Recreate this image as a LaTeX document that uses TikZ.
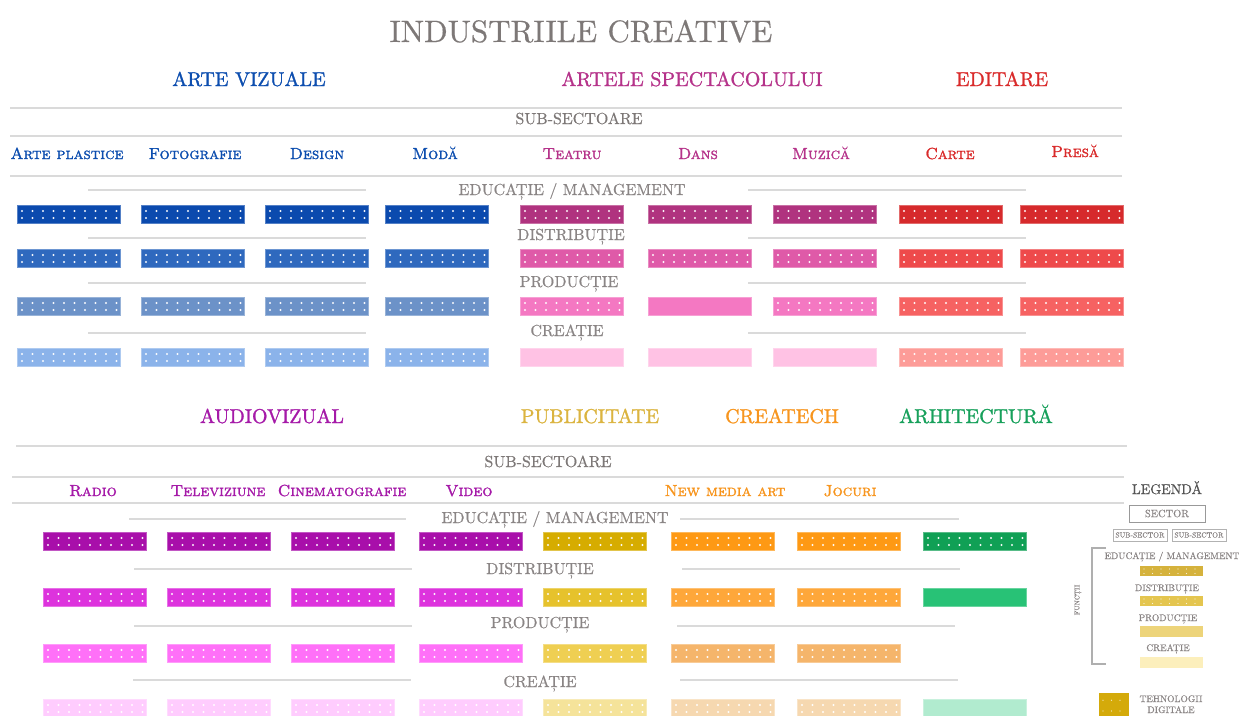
\documentclass[tikz,border=0pt]{standalone}
\usepackage{fontspec}
\setmainfont{lmroman10-regular.otf}[BoldFont=lmroman10-bold.otf, SmallCapsFont=lmromancaps10-regular.otf, SmallCapsFeatures={FakeBold=1.5}]
\definecolor{ttl}{HTML}{7D7877}
\definecolor{gr}{HTML}{8A8585}
\definecolor{ln}{HTML}{DADADA}
\definecolor{lgd}{HTML}{555555}
\definecolor{tav}{HTML}{0D4EAF}
\definecolor{tas}{HTML}{B5338A}
\definecolor{ted}{HTML}{D92B2B}
\definecolor{tau}{HTML}{A51AA8}
\definecolor{tpb}{HTML}{DBB440}
\definecolor{tct}{HTML}{F7951E}
\definecolor{tar}{HTML}{17A05B}
\definecolor{av1}{HTML}{0B4AAE}\definecolor{av2}{HTML}{2F69BE}\definecolor{av3}{HTML}{6C92C8}\definecolor{av4}{HTML}{8BB3EA}
\definecolor{as1}{HTML}{B0337F}\definecolor{as2}{HTML}{DF5AA8}\definecolor{as3}{HTML}{F478C2}\definecolor{as4}{HTML}{FFC2E4}
\definecolor{ed1}{HTML}{D62A2C}\definecolor{ed2}{HTML}{EE4A4B}\definecolor{ed3}{HTML}{F66262}\definecolor{ed4}{HTML}{FD9C98}
\definecolor{au1}{HTML}{A80FAA}\definecolor{au2}{HTML}{DD33DD}\definecolor{au3}{HTML}{FF70F8}\definecolor{au4}{HTML}{FFCCFE}
\definecolor{pb1}{HTML}{D6AC00}\definecolor{pb2}{HTML}{E6C22C}\definecolor{pb3}{HTML}{EFCF52}\definecolor{pb4}{HTML}{F5E39A}
\definecolor{ct1}{HTML}{FE9914}\definecolor{ct2}{HTML}{FEA73A}\definecolor{ct3}{HTML}{F5B56B}\definecolor{ct4}{HTML}{F6D8B0}
\definecolor{ar1}{HTML}{10A055}\definecolor{ar2}{HTML}{28C276}\definecolor{ar4}{HTML}{B1EBCF}
\definecolor{lg1}{HTML}{D5B23C}\definecolor{lg2}{HTML}{E4C54F}\definecolor{lg3}{HTML}{EDD47A}\definecolor{lg4}{HTML}{FCEFBC}
\definecolor{tech}{HTML}{D4AA0A}
\newcommand\cbar[4]{%
  \fill[#3] (#1,#2) rectangle ++(103,18);
  \draw[#3!70!white, line width=0.7pt] (#1,#2) rectangle ++(103,18);
  \ifnum#4=1
    \foreach \i in {0,...,9} {
      \fill[white, opacity=0.95] ({#1+5+\i*10.5},{#2+6}) circle (1.05pt);
      \fill[white, opacity=0.95] ({#1+5+\i*10.5},{#2+13}) circle (1.05pt);
    }
  \fi}
\newcommand\lbar[6]{% x y w h color dots
  \fill[#5] (#1,#2) rectangle ++(#3,#4);
  \ifnum#6=1
    \foreach \i in {0,...,20} {
      \pgfmathsetmacro\xx{#1+4+\i*8.5}
      \pgfmathparse{\xx<#1+#3-2?1:0}
      \ifnum\pgfmathresult=1
        \fill[white, opacity=0.8] (\xx,{#2+#4*0.3}) circle (0.6pt);
        \fill[white, opacity=0.8] (\xx,{#2+#4*0.75}) circle (0.6pt);
      \fi
    }
  \fi}
\newcommand\bolder[1]{\addfontfeature{FakeBold=#1}}
\tikzset{
  hline/.style={ln, line width=1.6pt},
  title/.style={font=\fontsize{31}{36}\selectfont\bolder{0.5}, text=ttl, anchor=base, inner sep=0pt},
  sector/.style={font=\fontsize{20}{24}\selectfont\bolder{1.2}, anchor=base, inner sep=0pt},
  subhead/.style={font=\fontsize{16}{20}\selectfont\bolder{0.6}, text=ttl, anchor=base, inner sep=0pt},
  sublbl/.style={font=\fontsize{16}{20}\selectfont\scshape, anchor=base, inner sep=0pt},
  func/.style={font=\fontsize{16}{20}\selectfont\bolder{0.6}, text=gr, anchor=base, inner sep=0pt},
  lgtxt/.style={font=\fontsize{9.5}{11}\selectfont\bolder{0.6}, text=gr, anchor=base, inner sep=0pt},
}
\begin{document}
\begin{tikzpicture}[x=1pt, y=-1pt]
\useasboundingbox (0,0) rectangle (1239,715);
% ---------- title
\node[title] (title) at (581,42) {INDUSTRIILE CREATIVE};
% ---------- top sectors
\node[sector, text=tav] (s1) at (249,86) {ARTE VIZUALE};
\node[sector, text=tas] (s2) at (692,86) {ARTELE SPECTACOLULUI};
\node[sector, text=ted] (s3) at (1002,86) {EDITARE};
\draw[hline] (10,108) -- (1122,108);
\node[subhead] (ss1) at (579,124) {SUB-SECTOARE};
\draw[hline] (10,136) -- (1122,136);
\node[sublbl, text=tav] (a1) at (67,159) {Arte plastice};
\node[sublbl, text=tav] (a2) at (195,159) {Fotografie};
\node[sublbl, text=tav] (a3) at (317,159) {Design};
\node[sublbl, text=tav] (a4) at (435,159) {Modă};
\node[sublbl, text=tas] (a5) at (572,159) {Teatru};
\node[sublbl, text=tas] (a6) at (698,159) {Dans};
\node[sublbl, text=tas] (a7) at (821,159) {Muzică};
\node[sublbl, text=ted] (a8) at (950,159) {Carte};
\node[sublbl, text=ted] (a9) at (1075,157) {Presă};
\draw[hline] (10,176) -- (1122,176);
% function labels top
\node[func] (f1) at (572,195) {EDUCAȚIE / MANAGEMENT};
\node[func] (f2) at (571,240) {DISTRIBUȚIE};
\node[func] (f3) at (569,287) {PRODUCȚIE};
\node[func] (f4) at (567,336) {CREAȚIE};
\foreach \yy in {190,238,283,333} {
  \draw[hline] (88,\yy) -- (366,\yy);
  \draw[hline] (748,\yy) -- (1026,\yy);
}
% bars top
\foreach \xx in {17,141,265,385} {
  \cbar{\xx}{205}{av1}{1}\cbar{\xx}{249}{av2}{1}\cbar{\xx}{297}{av3}{1}\cbar{\xx}{348}{av4}{1}
}
\cbar{520}{205}{as1}{1}\cbar{520}{249}{as2}{1}\cbar{520}{297}{as3}{1}\cbar{520}{348}{as4}{0}
\cbar{648}{205}{as1}{1}\cbar{648}{249}{as2}{1}\cbar{648}{297}{as3}{0}\cbar{648}{348}{as4}{0}
\cbar{773}{205}{as1}{1}\cbar{773}{249}{as2}{1}\cbar{773}{297}{as3}{1}\cbar{773}{348}{as4}{0}
\foreach \xx in {899,1020} {
  \cbar{\xx}{205}{ed1}{1}\cbar{\xx}{249}{ed2}{1}\cbar{\xx}{297}{ed3}{1}\cbar{\xx}{348}{ed4}{1}
}
% ---------- bottom sectors
\node[sector, text=tau] (s4) at (272,423) {AUDIOVIZUAL};
\node[sector, text=tpb] (s5) at (590,423) {PUBLICITATE};
\node[sector, text=tct] (s6) at (782,423) {CREATECH};
\node[sector, text=tar] (s7) at (976,423) {ARHITECTURĂ};
\draw[hline] (16,446) -- (1127,446);
\node[subhead] (ss2) at (548,467) {SUB-SECTOARE};
\draw[hline] (12,477) -- (1124,477);
\node[sublbl, text=tau] (b1) at (93,496) {Radio};
\node[sublbl, text=tau] (b2) at (218,496) {Televiziune};
\node[sublbl, text=tau] (b3) at (342,496) {Cinematografie};
\node[sublbl, text=tau] (b4) at (469,496) {Video};
\node[sublbl, text=tct] (b5) at (725,496) {New media art};
\node[sublbl, text=tct] (b6) at (850,496) {Jocuri};
\draw[hline] (12,503) -- (1124,503);
\node[func] (g1) at (555,523) {EDUCAȚIE / MANAGEMENT};
\node[func] (g2) at (540,574) {DISTRIBUȚIE};
\node[func] (g3) at (540,628) {PRODUCȚIE};
\node[func] (g4) at (540,687) {CREAȚIE};
\draw[hline] (129,519) -- (406,519); \draw[hline] (680,519) -- (959,519);
\draw[hline] (134,569) -- (412,569); \draw[hline] (682,569) -- (960,569);
\draw[hline] (134,626) -- (412,626); \draw[hline] (677,626) -- (955,626);
\draw[hline] (133,680) -- (411,680); \draw[hline] (680,680) -- (958,680);
% bars bottom
\foreach \xx in {43,167,291,419} {
  \cbar{\xx}{532}{au1}{1}\cbar{\xx}{588}{au2}{1}\cbar{\xx}{644}{au3}{1}\cbar{\xx}{699}{au4}{1}
}
\cbar{543}{532}{pb1}{1}\cbar{543}{588}{pb2}{1}\cbar{543}{644}{pb3}{1}\cbar{543}{699}{pb4}{1}
\foreach \xx in {671,797} {
  \cbar{\xx}{532}{ct1}{1}\cbar{\xx}{588}{ct2}{1}\cbar{\xx}{644}{ct3}{1}\cbar{\xx}{699}{ct4}{1}
}
\cbar{923}{532}{ar1}{1}\cbar{923}{588}{ar2}{0}\cbar{923}{699}{ar4}{0}
% ---------- legend
\node[font=\fontsize{14}{16}\selectfont\bolder{0.8}, text=lgd, anchor=base, inner sep=0pt] (leg) at (1167,494) {LEGENDĂ};
\node[draw=gray!80, line width=0.8pt, minimum width=76pt, minimum height=17pt, inner sep=0pt,
      font=\fontsize{10.5}{12}\selectfont\bolder{0.5}, text=gr] (lsec) at (1167,513.5) {SECTOR};
\node[draw=gray!60, line width=0.6pt, minimum width=54pt, minimum height=12pt, inner sep=0pt,
      font=\fontsize{7.5}{9}\selectfont\bolder{0.4}, text=gr] (lsub1) at (1140,535) {SUB-SECTOR};
\node[draw=gray!60, line width=0.6pt, minimum width=54pt, minimum height=12pt, inner sep=0pt,
      font=\fontsize{7.5}{9}\selectfont\bolder{0.4}, text=gr] (lsub2) at (1199,535) {SUB-SECTOR};
\draw[gray!95!black!60, line width=2.6pt] (1106,548) -- (1092,548) -- (1092,664) -- (1106,664);
\node[font=\fontsize{7}{8}\selectfont\bolder{0.4}, text=gr, rotate=90, inner sep=0pt] (lfun) at (1078,600) {FUNCȚII};
\node[lgtxt] (l1) at (1172,559) {EDUCAȚIE / MANAGEMENT};
\lbar{1140}{566}{63}{10}{lg1}{1}
\node[lgtxt] (l2) at (1167,591) {DISTRIBUȚIE};
\lbar{1140}{596}{63}{10}{lg2}{1}
\node[lgtxt] (l3) at (1168,621) {PRODUCȚIE};
\lbar{1140}{626}{63}{11}{lg3}{0}
\node[lgtxt] (l4) at (1168,651) {CREAȚIE};
\lbar{1140}{657}{63}{11}{lg4}{0}
\lbar{1099}{693}{30}{24}{tech}{1}
\node[lgtxt] (t1) at (1171,702) {TEHNOLOGII};
\node[lgtxt] (t2) at (1171,713) {DIGITALE};
\end{tikzpicture}
\end{document}
